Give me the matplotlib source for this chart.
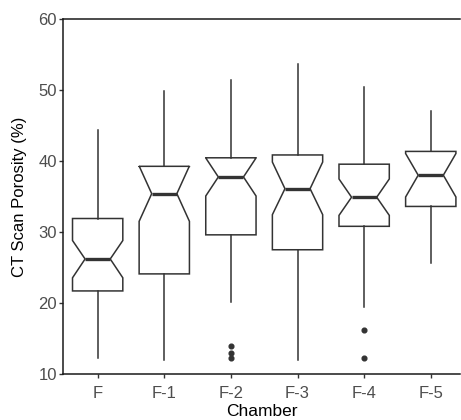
import matplotlib
matplotlib.use("Agg")
import matplotlib.pyplot as plt

plt.rcParams["font.family"] = ["Liberation Sans", "DejaVu Sans"]

chambers = ["F", "F-1", "F-2", "F-3", "F-4", "F-5"]
whisker_low = [12.3, 12.0, 20.1, 12.0, 19.4, 25.7]
q1 = [21.7, 24.1, 29.6, 27.5, 30.8, 33.6]
median = [26.2, 35.4, 37.75, 36.1, 34.9, 38.0]
q3 = [31.9, 39.25, 40.45, 40.85, 39.55, 41.35]
whisker_high = [44.3, 49.9, 51.4, 53.65, 50.45, 47.05]
notch_low = [23.55, 31.5, 35.07, 32.44, 32.34, 34.93]
notch_high = [28.8, 39.3, 40.43, 39.85, 37.47, 41.05]
outliers = [[], [], [14.0, 12.9, 12.3], [], [16.2, 12.2], []]

stats = []
for i, name in enumerate(chambers):
    stats.append({
        "label": name,
        "whislo": whisker_low[i],
        "q1": q1[i],
        "med": median[i],
        "q3": q3[i],
        "whishi": whisker_high[i],
        "cilo": notch_low[i],
        "cihi": notch_high[i],
        "fliers": outliers[i],
    })

line_col = "#333333"
fig = plt.figure(figsize=(4.61, 4.20), dpi=100)
ax = fig.add_axes([0.1367, 0.1095, 0.8613, 0.8453])

ax.bxp(
    stats,
    positions=range(1, 7),
    widths=0.755,
    shownotches=True,
    patch_artist=True,
    showcaps=False,
    boxprops=dict(facecolor="white", edgecolor=line_col, linewidth=1.1),
    whiskerprops=dict(color=line_col, linewidth=1.1),
    medianprops=dict(color=line_col, linewidth=2.4),
    flierprops=dict(marker="o", markerfacecolor=line_col, markeredgecolor=line_col,
                    markersize=3.4, linestyle="none"),
)

ax.set_xlim(0.48, 6.44)
ax.set_ylim(10, 60)
ax.set_yticks([10, 20, 30, 40, 50, 60])
ax.set_xticks(range(1, 7))
ax.set_xticklabels(chambers)

ax.spines["right"].set_visible(False)
for s in ["left", "bottom", "top"]:
    ax.spines[s].set_color("#1a1a1a")
    ax.spines[s].set_linewidth(1.1)

ax.tick_params(axis="both", colors=line_col, length=3.0, width=1.0,
               labelsize=12, labelcolor="#4D4D4D")
ax.tick_params(axis="x", pad=5.5)
ax.tick_params(axis="y", pad=1.5)

ax.set_xlabel("Chamber", fontsize=12.5, color="black", labelpad=2)
ax.set_ylabel("CT Scan Porosity (%)", fontsize=12, color="black", labelpad=8)

fig.savefig("out.png", dpi=100)
